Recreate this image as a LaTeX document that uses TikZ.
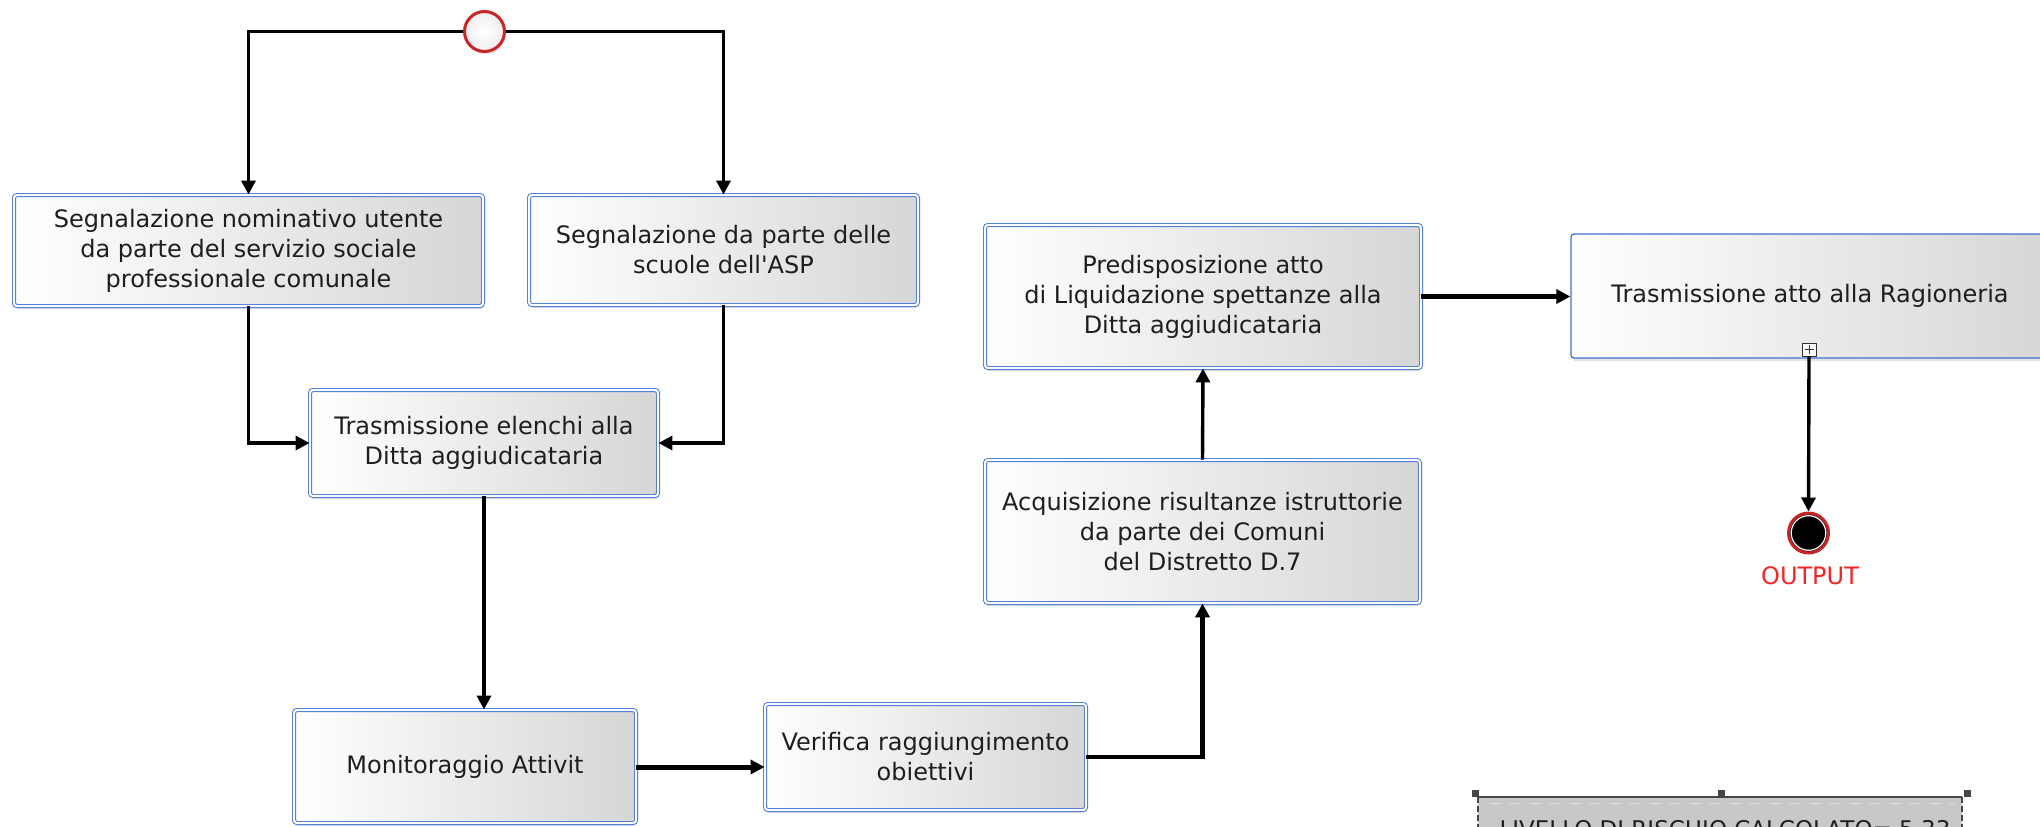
\documentclass[tikz,border=0pt]{standalone}
\usepackage{fontspec}
\setmainfont{DejaVu Sans}
\usetikzlibrary{arrows.meta,shadows,calc}

\definecolor{boxblue}{RGB}{62,112,212}
\definecolor{boxgray}{RGB}{214,214,214}
\definecolor{evred}{RGB}{200,38,38}
\definecolor{outred}{RGB}{242,38,38}
\definecolor{txt}{RGB}{30,30,30}
\definecolor{panelgray}{RGB}{200,200,200}
\definecolor{paneledge}{RGB}{70,70,70}

\begin{document}
\begin{tikzpicture}[x=1pt,y=-1pt,
  task/.style={rectangle, rounded corners=3pt, draw=boxblue, line width=0.9pt,
    double=white, double distance=2.2pt,
    left color=white, right color=boxgray,
    inner sep=0pt, align=center, text=txt,
    font=\fontsize{24}{30}\selectfont,
    drop shadow={shadow xshift=1pt, shadow yshift=-3pt, opacity=0.22}},
  subtask/.style={rectangle, rounded corners=3pt, draw=boxblue, line width=1.3pt,
    left color=white, right color=boxgray,
    inner sep=0pt, align=center, text=txt,
    font=\fontsize{24}{30}\selectfont,
    drop shadow={shadow xshift=1pt, shadow yshift=-3pt, opacity=0.22}},
  flow/.style={draw=black, line width=3.4pt,
    -{Triangle[length=14pt,width=14pt]}},
  heavyflow/.style={flow, line width=5pt},
  handle/.style={fill=paneledge, minimum size=7pt, inner sep=0pt, rectangle}
]
% canvas
\useasboundingbox (0,0) rectangle (2040,827);
\clip (0,0) rectangle (2040,827);
\fill[white] (0,0) rectangle (2040,827);

% events
\node[circle, minimum size=40pt, inner sep=0pt, draw=evred, line width=3pt,
      inner color=white, outer color=gray!14,
      drop shadow={shadow xshift=1pt, shadow yshift=-3pt, opacity=0.2}]
      (start) at (484.5,31.5) {};
\node[circle, minimum size=40pt, inner sep=0pt, draw=evred, line width=3pt,
      fill=black] (finish) at (1808.5,533) {};
\draw[white, line width=1.2pt] (finish.center) circle (17.3);
\node[text=outred, font=\fontsize{24}{28}\selectfont, anchor=base]
      (outlbl) at (1810,584) {OUTPUT};

% activities
\node[task, minimum width=469pt, minimum height=111pt] (b1) at (248.5,250.5)
  {Segnalazione nominativo utente\\da parte del servizio sociale\\professionale comunale};
\node[task, minimum width=389pt, minimum height=110pt] (b2) at (723.5,250)
  {Segnalazione da parte delle\\scuole dell\textquotesingle ASP};
\node[task, minimum width=348pt, minimum height=106pt] (b3) at (484,443)
  {Trasmissione elenchi alla\\Ditta aggiudicataria};
\node[task, minimum width=342pt, minimum height=113pt] (b4) at (465,766.5)
  {Monitoraggio Attivit};
\node[task, minimum width=321pt, minimum height=106pt] (b5) at (925.5,757)
  {Verifica raggiungimento\\obiettivi};
\node[task, minimum width=435pt, minimum height=143pt] (b6) at (1202.5,531.5)
  {Acquisizione risultanze istruttorie\\da parte dei Comuni\\del Distretto D.7};
\node[task, minimum width=436pt, minimum height=143pt] (b7) at (1203,296.5)
  {Predisposizione atto\\di Liquidazione spettanze alla\\Ditta aggiudicataria};
\node[subtask, minimum width=478pt, minimum height=124pt] (b8) at (1810,296)
  {Trasmissione atto alla Ragioneria};

% collapsed sub-process marker
\node[draw=black!80, fill=white, line width=0.9pt, minimum width=14pt,
      minimum height=13pt, inner sep=0pt] (plus) at (1809,349.5) {};
\draw[black!80, line width=0.9pt] ($(plus.center)+(-4.5,0)$) -- ($(plus.center)+(4.5,0)$)
  ($(plus.center)+(0,-4.5)$) -- ($(plus.center)+(0,4.5)$);

% sequence flows
\draw[flow] (start.west) -| (b1.north);
\draw[flow] (start.east) -| (b2.north);
\draw[flow] (b1.south) |- (b3.west);
\draw[flow] (b2.south) |- (b3.east);
\draw[flow] (b3.south) -- (b3.south |- b4.north);
\draw[heavyflow] ($(b4.east)+(0,0.5)$) -- ($(b4.east -| b5.west)+(0,0.5)$);
\draw[flow, line width=4.4pt] (b5.east) -| (b6.south);
\draw[flow] (b6.north) -- (b7.south);
\draw[heavyflow] (b7.east) -- (b7.east -| b8.west);
\draw[flow] (plus.south) -- (finish.north);

% risk level panel (selected)
\fill[panelgray] (1478,797) rectangle (1962,880);
\draw[paneledge, line width=1.4pt] (1478,797) -- (1962,797);
\draw[paneledge, line width=1.2pt, dash pattern=on 6pt off 3pt] (1478,797) -- (1478,880);
\draw[paneledge, line width=1.2pt, dash pattern=on 6pt off 3pt] (1962,797) -- (1962,880);
\draw[white!75!gray, line width=0.8pt, dash pattern=on 10pt off 10pt] (1490,803) -- (1955,803);
\node[text=txt, font=\fontsize{23}{28}\selectfont, anchor=base] (risk) at (1725,837)
  {LIVELLO DI RISCHIO CALCOLATO= 5,33};
\node[handle] (h1) at (1475,793) {};
\node[handle] (h2) at (1721,793) {};
\node[handle] (h3) at (1967,793) {};
\node[handle] (h4) at (1475,831) {};
\node[handle] (h5) at (1967,831) {};
\end{tikzpicture}
\end{document}
